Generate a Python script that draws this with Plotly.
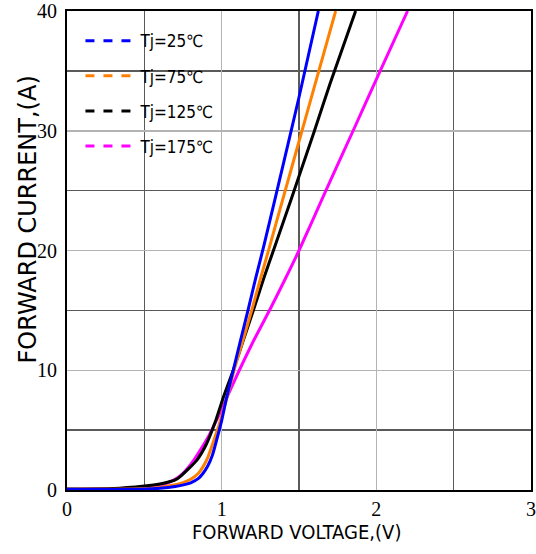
import plotly.graph_objects as go

# Forward voltage (V) / forward current (A) per junction temperature
v_25 = [0, 0.3, 0.5, 0.6, 0.7, 0.76, 0.8, 0.85, 0.88, 0.91, 0.94, 0.97, 1.0, 1.03, 1.075, 1.12, 1.172, 1.22, 1.273, 1.40, 1.50, 1.625]
i_25 = [0.05, 0.05, 0.08, 0.15, 0.3, 0.45, 0.6, 0.97, 1.4, 2.0, 2.9, 4.3, 5.8, 7.6, 10.0, 12.4, 15.1, 17.7, 20.4, 27.3, 32.8, 40]

v_75 = [0, 0.3, 0.5, 0.6, 0.7, 0.75, 0.8, 0.85, 0.88, 0.91, 0.94, 0.98, 1.03, 1.08, 1.14, 1.194, 1.25, 1.305, 1.40, 1.50, 1.60, 1.737]
i_75 = [0.05, 0.06, 0.12, 0.22, 0.45, 0.62, 0.9, 1.4, 1.95, 2.7, 3.8, 5.3, 7.5, 10.0, 12.6, 15.0, 17.6, 20.1, 24.5, 29.1, 33.7, 40]

v_125 = [0, 0.3, 0.5, 0.6, 0.65, 0.7, 0.73, 0.78, 0.84, 0.9, 0.963, 1.01, 1.075, 1.14, 1.205, 1.27, 1.351, 1.45, 1.6, 1.7, 1.866]
i_125 = [0.08, 0.12, 0.33, 0.5, 0.65, 0.85, 1.1, 1.7, 2.5, 3.8, 5.85, 7.7, 10.0, 12.5, 15.0, 17.6, 20.6, 24.3, 30.0, 33.9, 40]

v_175 = [0, 0.3, 0.5, 0.6, 0.69, 0.75, 0.82, 0.87, 0.92, 0.968, 1.01, 1.05, 1.114, 1.2, 1.317, 1.41, 1.5, 1.67, 1.85, 2.0, 2.202]
i_175 = [0.06, 0.1, 0.25, 0.38, 0.83, 1.4, 2.5, 3.5, 4.6, 5.85, 7.0, 8.2, 10.0, 12.3, 15.2, 17.6, 20.0, 24.9, 30.0, 34.3, 40]

series_names = ["Tj=25℃", "Tj=75℃", "Tj=125℃", "Tj=175℃"]
series_colors = ["#0000ff", "#ff8000", "#000000", "#ff00ff"]
series_v = [v_25, v_75, v_125, v_175]
series_i = [i_25, i_75, i_125, i_175]

x_ticks = [0, 1, 2, 3]
y_ticks = [0, 10, 20, 30, 40]

fig = go.Figure()
for name, col, vv, ii in reversed(list(zip(series_names, series_colors, series_v, series_i))):
    fig.add_trace(go.Scatter(x=vv, y=ii, mode="lines", line=dict(color=col, width=3, shape="spline", smoothing=0.6),
                             showlegend=False, hoverinfo="skip"))
for k, (name, col) in enumerate(zip(series_names, series_colors)):
    fig.add_trace(go.Scatter(x=[None], y=[None], mode="lines", name=name, legendgroup=f"g{k}",
                             line=dict(color=col, width=3, dash="dash")))

cond = "DejaVu Sans Condensed, Liberation Sans Narrow, DejaVu Sans, sans-serif"
serif = "Liberation Serif, Times New Roman, serif"

W, H = 536, 554
ML, MR, MT, MB = 67, 5, 11, 64
PW, PH = W - ML - MR, H - MT - MB

fig.update_layout(
    width=W, height=H,
    margin=dict(l=ML, r=MR, t=MT, b=MB),
    plot_bgcolor="white", paper_bgcolor="white",
    showlegend=True,
    hovermode=False,
    legend=dict(x=0.029, y=0.9745, xanchor="left", yanchor="top",
                bgcolor="rgba(255,255,255,0)", font=dict(family=cond, size=17, color="black"),
                tracegroupgap=10, itemwidth=50, traceorder="grouped"),
    xaxis=dict(range=[0, 3], tickvals=x_ticks, ticktext=[str(t) for t in x_ticks],
               showgrid=True, gridcolor="#b4b4b4", gridwidth=1.5,
               minor=dict(dtick=0.5, showgrid=True, gridcolor="#5a5a5a", gridwidth=1.5),
               showline=True, linecolor="black", linewidth=2, mirror=True, automargin=False,
               ticklabeloverflow="allow",
               zeroline=False, ticks="", tickfont=dict(family=serif, size=20, color="black")),
    yaxis=dict(range=[0, 40], tickvals=y_ticks, ticktext=[str(t) for t in y_ticks],
               showgrid=True, gridcolor="#b4b4b4", gridwidth=1.5,
               minor=dict(dtick=5, showgrid=True, gridcolor="#5a5a5a", gridwidth=1.5),
               showline=True, linecolor="black", linewidth=2, mirror=True, automargin=False,
               ticklabeloverflow="allow",
               zeroline=False, ticks="", ticklabelstandoff=4,
               tickfont=dict(family=serif, size=20, color="black")),
    annotations=[
        dict(text="FORWARD VOLTAGE,(V)", xref="paper", yref="paper", x=(296.7 - 67) / PW, y=-(532 - 490) / PH,
             xanchor="center", yanchor="middle", showarrow=False,
             font=dict(family=cond, size=20, color="black")),
        dict(text="FORWARD CURRENT,(A)", xref="paper", yref="paper", x=-(67 - 27.5) / PW, y=(490 - 220) / PH,
             xanchor="center", yanchor="middle", showarrow=False, textangle=-90,
             font=dict(family="DejaVu Sans, sans-serif", size=24, color="black")),
    ],
)

fig.write_html("out.html", config={"displayModeBar": False, "staticPlot": True},
               post_script="document.body.style.margin='0px';document.body.style.overflow='hidden';")
